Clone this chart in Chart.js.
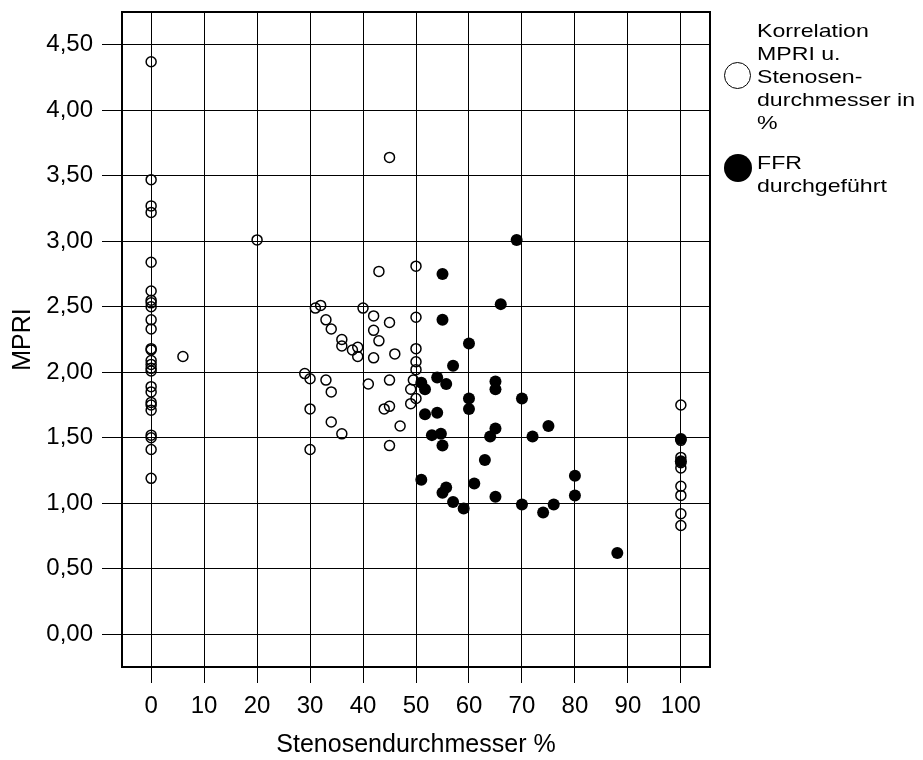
<!DOCTYPE html>
<html>
<head>
<meta charset="utf-8">
<script src="https://cdn.jsdelivr.net/npm/chart.js@4.4.1/dist/chart.umd.min.js"></script>
<style>
  html, body { margin:0; padding:0; background:#fff; }
  #wrap { position:relative; width:923px; height:760px; }
  #chart { position:absolute; left:0; top:0; }
  .leg { position:absolute; left:757px; font-family: Arial, "Liberation Sans", sans-serif; font-size:18.5px; line-height:23px; color:#000; white-space:nowrap; transform:scaleX(1.25); transform-origin:0 0; }
  .mk { position:absolute; box-sizing:border-box; border-radius:50%; }
</style>
</head>
<body>
<div id="wrap">
  <canvas id="chart" width="923" height="760"></canvas>
  <div class="mk" style="left:724px;top:62px;width:27px;height:27px;border:1.5px solid #000;"></div>
  <div class="leg" style="top:19px">Korrelation<br>MPRI u.<br>Stenosen-<br>durchmesser in<br>%</div>
  <div class="mk" style="left:724px;top:154px;width:28px;height:28px;background:#000;"></div>
  <div class="leg" style="top:151px">FFR<br>durchgeführt</div>
</div>
<script>
// Korrelation MPRI u. Stenosendurchmesser in % (offene Kreise)
const stenoseOffen = [
  0,0,0,0,0,0,0,0,0,0,0,0,0,0,0,0,0,0,0,0,0,0,0,0,0,0,
  6,20,29,30,30,30,31,32,33,33,34,34,34,36,36,36,38,39,39,40,41,42,42,42,
  43,43,44,45,45,45,45,45,46,47,49,49,49.5,50,50,50,50,50,50,
  100,100,100,100,100,100,100,100,100
];
const mpriOffen = [
  4.37,3.47,3.27,3.22,2.84,2.62,2.55,2.53,2.50,2.40,2.33,2.18,2.17,2.09,2.06,2.03,2.01,1.89,1.85,1.77,1.75,1.71,1.52,1.50,1.41,1.19,
  2.12,3.01,1.99,1.95,1.72,1.41,2.49,2.51,2.40,1.94,2.33,1.85,1.62,2.25,2.20,1.53,2.17,2.19,2.12,2.49,1.91,2.43,2.32,2.11,
  2.77,2.24,1.72,3.64,2.38,1.94,1.74,1.44,2.14,1.59,1.87,1.76,1.94,2.81,2.42,2.18,2.08,2.02,1.80,
  1.75,1.48,1.35,1.31,1.27,1.13,1.06,0.92,0.83
];

// FFR durchgeführt (gefüllte Punkte)
const stenoseFFR = [
  69,55,66,55,60,57,54,51,51.7,55.7,65,65,60,60,70,51.7,54,53,54.7,55,
  65,64,75,72,63,61,55.7,55,65,57,59,70,76,74,80,80,51,88,100,100
];
const mpriFFR = [
  3.01,2.75,2.52,2.40,2.22,2.05,1.96,1.92,1.87,1.91,1.93,1.87,1.80,1.72,1.80,1.68,1.69,1.52,1.53,1.44,
  1.57,1.51,1.59,1.51,1.33,1.15,1.12,1.08,1.05,1.01,0.96,0.99,0.99,0.93,1.21,1.06,1.18,0.62,1.49,1.32
];

const xTicks = [0,10,20,30,40,50,60,70,80,90,100];
const yTicks = [0,0.5,1,1.5,2,2.5,3,3.5,4,4.5];

const FONT = 'Arial, "Liberation Sans", sans-serif';
const pts = (xs, ys) => xs.map((x,i) => ({ x, y: ys[i] }));

// Rahmen oben/rechts
const frame = {
  id: 'frame',
  beforeDatasetsDraw(c){
    const { ctx, chartArea:a } = c;
    ctx.save();
    ctx.strokeStyle = '#000'; ctx.lineWidth = 2;
    ctx.beginPath();
    ctx.moveTo(a.left, a.top); ctx.lineTo(a.right, a.top); ctx.lineTo(a.right, a.bottom);
    ctx.stroke();
    ctx.restore();
  }
};

new Chart(document.getElementById('chart'), {
  type: 'scatter',
  data: {
    datasets: [
      { label:'Korrelation MPRI u. Stenosendurchmesser in %', data: pts(stenoseOffen, mpriOffen),
        pointRadius:5, pointBorderWidth:1.5, pointBorderColor:'#000', pointBackgroundColor:'rgba(0,0,0,0)' },
      { label:'FFR durchgeführt', data: pts(stenoseFFR, mpriFFR),
        pointRadius:6, pointBorderWidth:0, pointBackgroundColor:'#000', pointBorderColor:'#000' }
    ]
  },
  options: {
    responsive:false, animation:false,
    layout:{ padding:{ top:12, right:213, left:0, bottom:0 } },
    plugins:{ legend:{ display:false }, tooltip:{ enabled:false } },
    scales:{
      x:{
        type:'linear', min:-5.5, max:105.5,
        afterBuildTicks: s => { s.ticks = xTicks.map(v => ({ value:v })); },
        afterFit: s => { s.height = 93; s.paddingLeft = 0; s.paddingRight = 0; },
        grid:{ color:'#000', lineWidth:1, tickLength:16, tickColor:'#000' },
        border:{ color:'#000', width:2 },
        ticks:{ color:'#000', font:{ family:FONT, size:24 }, padding:9, maxRotation:0, autoSkip:false },
        title:{ display:true, text:'Stenosendurchmesser %', color:'#000', font:{ family:FONT, size:25 }, padding:{ top:0, bottom:0 } }
      },
      y:{
        type:'linear', min:-0.25, max:4.75,
        afterBuildTicks: s => { s.ticks = yTicks.map(v => ({ value:v })); },
        afterFit: s => { s.width = 122; s.paddingTop = 0; s.paddingBottom = 0; },
        grid:{ color:'#000', lineWidth:1, tickLength:20, tickColor:'#000' },
        border:{ color:'#000', width:2 },
        ticks:{ color:'#000', font:{ family:FONT, size:24 }, padding:9, autoSkip:false,
                callback: v => v.toFixed(2).replace('.', ',') },
        title:{ display:true, text:'MPRI', color:'#000', font:{ family:FONT, size:25 }, padding:{ top:8, bottom:0 } }
      }
    }
  },
  plugins:[frame]
});
</script>
</body>
</html>
